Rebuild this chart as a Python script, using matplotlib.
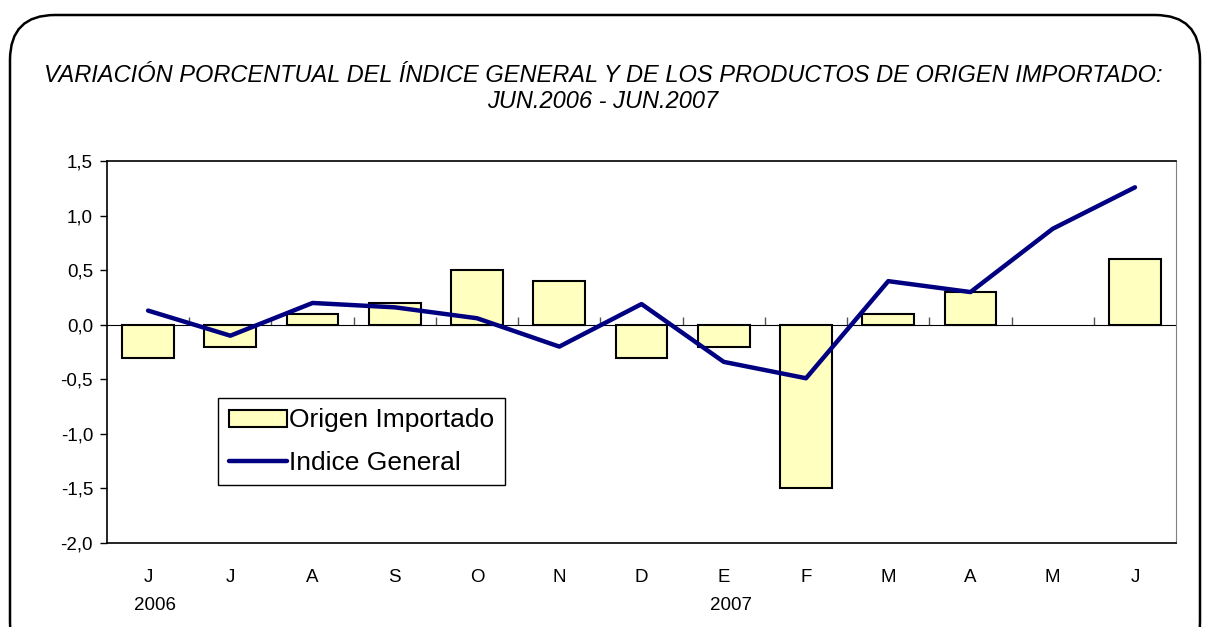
import matplotlib
matplotlib.use('Agg')
import matplotlib.pyplot as plt
import matplotlib.patches as mpatches
from matplotlib.transforms import IdentityTransform

months = ['J', 'J', 'A', 'S', 'O', 'N', 'D', 'E', 'F', 'M', 'A', 'M', 'J']
years = {0: '2006', 7: '2007'}
# May 2007 has no bar in the source chart
origen_importado = [-0.3, -0.2, 0.1, 0.2, 0.5, 0.4, -0.3, -0.2, -1.5, 0.1, 0.3, float('nan'), 0.6]
indice_general = [0.13, -0.10, 0.20, 0.16, 0.06, -0.20, 0.19, -0.34, -0.49, 0.40, 0.30, 0.88, 1.26]
yticks = [-2.0, -1.5, -1.0, -0.5, 0.0, 0.5, 1.0, 1.5]

plt.rcParams['font.family'] = ['Liberation Sans', 'DejaVu Sans']

fig = plt.figure(figsize=(12.06, 6.27), dpi=100)
ax = fig.add_axes([0.0887, 0.134, 0.8865, 0.609])

x = list(range(len(months)))
bars = ax.bar(x, origen_importado, width=0.63, color='#FFFFC0', edgecolor='black',
              linewidth=1.5, label='Origen Importado', zorder=2)
line, = ax.plot(x, indice_general, color='#000080', linewidth=3.2, label='Indice General',
                solid_capstyle='round', zorder=3)

ymin, ymax = -2.0, 1.5
ax.set_ylim(ymin, ymax)
ax.set_xlim(-0.5, len(months) - 0.5)
ax.set_yticks(yticks)
ax.set_yticklabels([f'{v:.1f}'.replace('.', ',') for v in yticks], fontsize=13.5)
ax.tick_params(axis='y', direction='out', length=5, width=1, pad=5)

ax.set_xticks(x)
ax.set_xticklabels(months, fontsize=13.5)
ax.tick_params(axis='x', length=0, pad=19)

for s in ['left', 'bottom', 'top']:
    ax.spines[s].set_linewidth(1.2)
ax.spines['right'].set_color('#808080')

# zero line with category separators
zero_pos = (0 - ymin) / (ymax - ymin)
sec = ax.secondary_xaxis(zero_pos)
sec.set_xticks([i + 0.5 for i in x[:-1]])
sec.set_xticklabels([])
sec.tick_params(direction='out', length=6, width=1, color='#555555')
sec.spines['bottom'].set_linewidth(1.3)

for i, yr in years.items():
    ax.annotate(yr, xy=(i, 0), xycoords=ax.get_xaxis_transform(),
                xytext=(5, -39), textcoords='offset points',
                ha='center', va='top', fontsize=13.5)

leg = ax.legend([bars, line], ['Origen Importado', 'Indice General'],
                loc='upper left', bbox_to_anchor=(0.104, 0.380), fontsize=19,
                fancybox=False, edgecolor='black', framealpha=1,
                handlelength=2.2, handleheight=0.6, handletextpad=0.1, borderpad=0.4,
                labelspacing=0.7, borderaxespad=0)
leg.get_frame().set_linewidth(1.0)

title_family = ['Liberation Sans Narrow', 'Liberation Sans', 'DejaVu Sans']
fig.text(0.5, 0.88, 'VARIACIÓN PORCENTUAL DEL ÍNDICE GENERAL Y DE LOS PRODUCTOS DE ORIGEN IMPORTADO:',
         ha='center', va='center', fontsize=17, style='italic', family=title_family)
fig.text(0.5, 0.838, 'JUN.2006 - JUN.2007', ha='center', va='center', fontsize=17,
         style='italic', family=title_family)

frame = mpatches.FancyBboxPatch((10, -40), 1190, 652, boxstyle='round,pad=0,rounding_size=45',
                                transform=IdentityTransform(), facecolor='none',
                                edgecolor='black', linewidth=1.8)
fig.patches.append(frame)

fig.savefig('out.png', dpi=100)
